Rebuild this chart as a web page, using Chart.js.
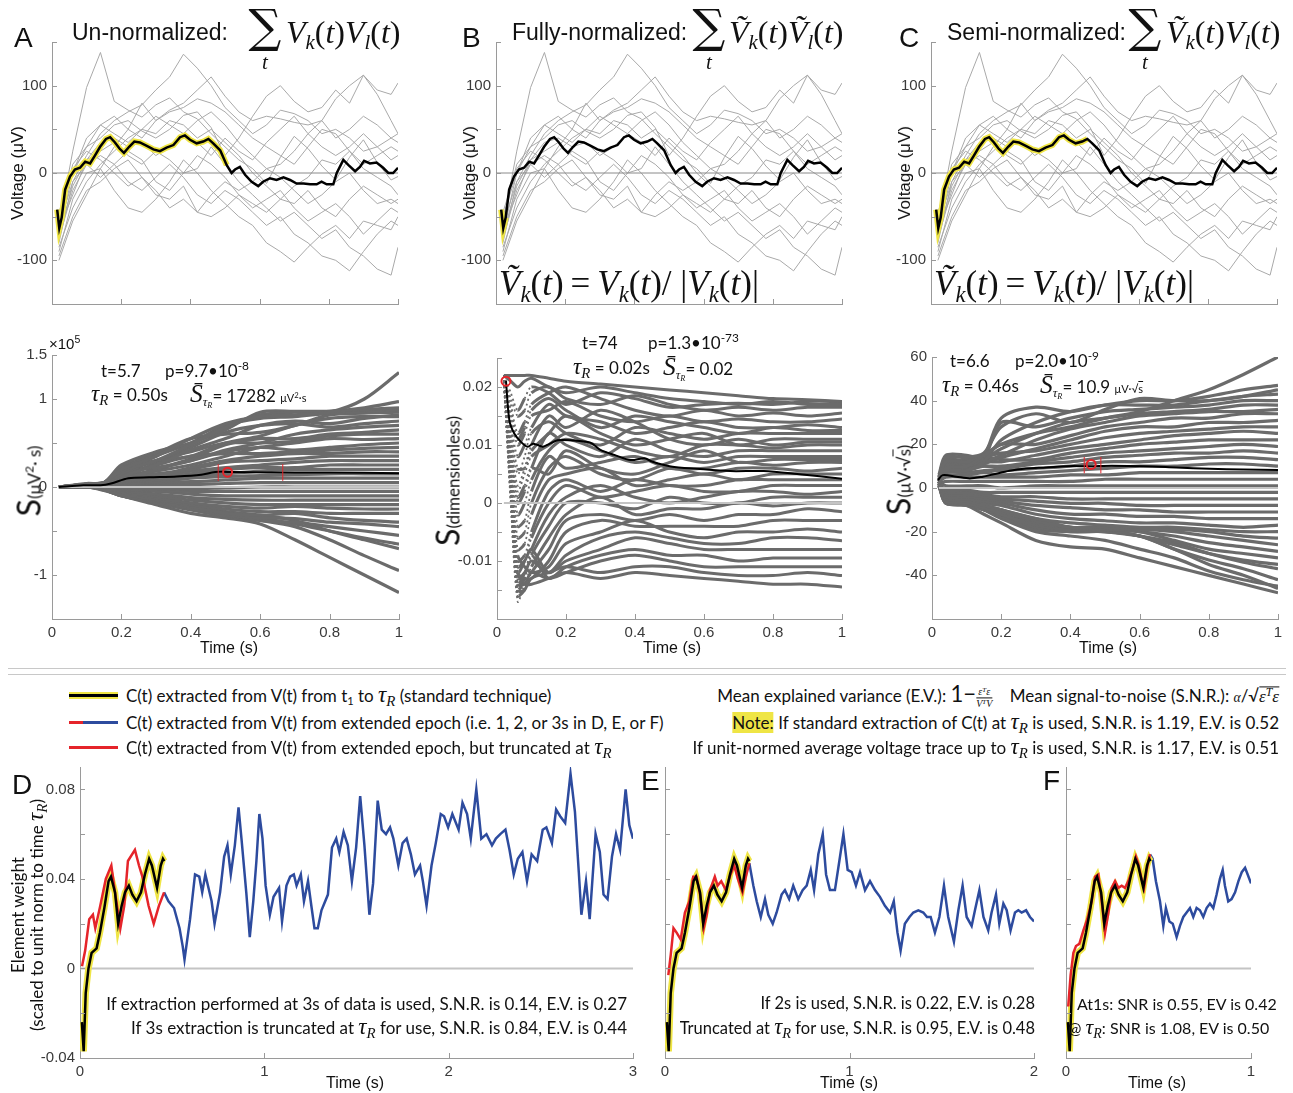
<!DOCTYPE html>
<html>
<head>
<meta charset="utf-8">
<title>Normalisation comparison</title>
<script src="https://cdn.jsdelivr.net/npm/chart.js@4.4.1/dist/chart.umd.min.js"></script>
<style>
  body { margin: 0; width: 1293px; height: 1093px; position: relative; overflow: hidden; background: #fff; }
  canvas { position: absolute; }
  .lbl { position: absolute; white-space: nowrap; line-height: 1; color: #111; }
  .lbl sub { font-size: 0.65em; vertical-align: -0.3em; line-height: 0; }
  .lbl sup { font-size: 0.7em; vertical-align: 0.55em; line-height: 0; }
  .m { font-family: "Liberation Serif", "DejaVu Serif", serif; font-style: italic; }
  .fr { display: inline-flex; flex-direction: column; vertical-align: middle; font-size: 10px; text-align: center; line-height: 1.1; }
  .fr > span:first-child { border-bottom: 1px solid #111; }
  .key { position: absolute; }
</style>
</head>
<body>
<script>
// ---- top row: voltage traces (µV) ----
const topTime = [0.02,0.06,0.10,0.14,0.18,0.22,0.26,0.30,0.34,0.38,0.42,0.46,0.50,0.54,0.58,0.62,0.66,0.70,0.74,0.78,0.82,0.86,0.90,0.94,0.98,1.00];
const voltageTraces = [
  [-60,25,98,138,82,72,64,78,86,70,62,45,30,15,5,-12,18,42,28,8,-8,18,38,12,-8,-4],
  [-80,-10,20,45,60,70,78,95,110,136,120,100,75,60,45,55,72,68,60,45,50,40,25,30,40,45],
  [-55,10,30,55,65,50,40,60,72,80,95,110,88,70,60,65,62,58,55,60,85,100,112,95,90,103],
  [-70,0,30,40,55,60,48,40,50,66,70,52,20,40,65,88,100,82,70,75,95,80,112,90,60,45],
  [-90,-30,0,5,-20,-40,-45,-30,-10,15,0,-20,-35,-50,-60,-80,-90,-102,-85,-70,-60,-75,-55,-60,-65,-50],
  [-75,-20,10,20,10,-10,-20,-5,10,-5,-25,-35,-20,-30,-45,-60,-50,-70,-80,-95,-100,-112,-90,-70,-55,-60],
  [-65,-25,15,25,35,20,10,25,15,0,5,30,10,-10,-25,-40,-55,-45,-60,-75,-65,-85,-95,-110,-117,-85],
  [-85,-40,-10,10,25,40,50,45,60,55,40,50,35,20,0,-15,-30,-35,-20,-40,-50,-30,-15,-25,-35,-30],
  [-50,0,40,55,45,35,50,65,55,45,60,70,55,35,20,5,10,25,45,60,40,50,65,55,40,35],
  [-45,5,25,15,0,-15,-5,-20,-40,-30,-45,-25,-10,-20,-10,5,-5,-20,-35,-25,-10,0,-20,-35,-30,-35],
  [-95,-50,-20,-10,5,15,-5,-25,-30,-15,-45,-50,-40,-25,-35,-45,-30,-15,-5,15,10,25,5,-5,-15,-25],
  [-70,-15,15,35,40,30,35,20,30,45,35,20,40,25,15,35,50,65,45,30,20,30,45,30,15,20],
  [-60,-10,10,-5,10,25,15,-10,-20,0,20,10,-5,-25,-40,-30,-20,-40,-55,-45,-35,-50,-70,-55,-40,-45],
  [-100,-55,-25,5,30,50,80,60,70,75,85,80,70,55,40,30,20,10,30,50,45,25,10,20,30,25]
];
const meanTime = [0.015,0.021,0.028,0.038,0.052,0.066,0.081,0.096,0.11,0.124,0.139,0.156,0.168,0.182,0.195,0.208,0.223,0.238,0.254,0.274,0.293,0.312,0.331,0.351,0.37,0.384,0.399,0.418,0.437,0.452,0.466,0.486,0.505,0.519,0.529,0.543,0.558,0.577,0.596,0.61,0.63,0.649,0.669,0.688,0.707,0.727,0.746,0.765,0.779,0.794,0.813,0.823,0.842,0.857,0.876,0.89,0.902,0.919,0.938,0.957,0.972,0.986,1.0];
const meanTrace = [-42,-63,-51,-19,-4,4,6,13,11,20,30,39,41,35,28,23,30,36,35,31,27,25,29,32,41,43,38,34,36,39,34,26,9,0,4,7,-2,-10,-15,-10,-6,-8,-5,-8,-12,-12,-13,-13,-10,-13,-13,0,15,9,2,7,14,11,12,6,0,0,6];
const yellowEnd = [0.505, 0.028, 0.46];

// ---- middle row: S(t) curves ----
const midTime = [0.02,0.1,0.15,0.2,0.3,0.4,0.5,0.6,0.7,0.8,0.9,1.0];
const sUnnorm = [ // x 1e5
  [0,0.03,0.05,0.2,0.35,0.55,0.72,0.8,0.82,0.85,1.0,1.3],
  [0,0.03,0.04,0.18,0.3,0.48,0.68,0.82,0.85,0.86,0.9,0.97],
  [0,0.04,0.05,0.25,0.4,0.5,0.65,0.85,0.86,0.86,0.88,0.9],
  [0,0.02,0.04,0.15,0.35,0.5,0.7,0.78,0.8,0.84,0.86,0.88],
  [0,0.03,0.05,0.22,0.38,0.55,0.6,0.62,0.7,0.82,0.84,0.85],
  [0,0.02,0.04,0.12,0.25,0.42,0.55,0.7,0.75,0.72,0.78,0.82],
  [0,0.03,0.04,0.2,0.3,0.35,0.5,0.58,0.7,0.78,0.8,0.8],
  [0,0.02,0.03,0.1,0.28,0.45,0.62,0.7,0.72,0.68,0.72,0.75],
  [0,0.03,0.05,0.18,0.22,0.3,0.42,0.5,0.6,0.65,0.68,0.7],
  [0,0.02,0.04,0.08,0.2,0.32,0.48,0.55,0.55,0.6,0.62,0.65],
  [0,0.03,0.05,0.15,0.3,0.4,0.5,0.5,0.52,0.58,0.6,0.6],
  [0,0.02,0.03,0.12,0.18,0.25,0.35,0.45,0.5,0.55,0.54,0.55],
  [0,0.02,0.04,0.1,0.2,0.3,0.4,0.45,0.42,0.45,0.48,0.5],
  [0,0.03,0.05,0.14,0.25,0.35,0.38,0.38,0.4,0.42,0.44,0.45],
  [0,0.02,0.03,0.06,0.12,0.22,0.3,0.35,0.38,0.38,0.4,0.4],
  [0,0.02,0.04,0.1,0.15,0.2,0.28,0.3,0.32,0.35,0.35,0.35],
  [0,0.03,0.04,0.08,0.12,0.18,0.22,0.25,0.28,0.3,0.3,0.3],
  [0,0.02,0.03,0.05,0.1,0.15,0.2,0.22,0.22,0.25,0.25,0.25],
  [0,0.02,0.03,0.06,0.08,0.12,0.15,0.18,0.2,0.2,0.2,0.2],
  [0,0.01,0.02,0.04,0.06,0.1,0.12,0.13,0.14,0.15,0.15,0.15],
  [0,0.01,0.02,0.03,0.05,0.06,0.08,0.1,0.1,0.1,0.1,0.1],
  [0,0.01,0.01,0.02,0.03,0.03,0.04,0.05,0.05,0.05,0.05,0.05],
  [0,0.01,0,-0.01,-0.02,-0.02,-0.01,0,0,0,0,0],
  [0,0,-0.01,-0.02,-0.04,-0.05,-0.05,-0.05,-0.05,-0.05,-0.05,-0.05],
  [0,0,-0.02,-0.03,-0.05,-0.08,-0.1,-0.1,-0.1,-0.1,-0.1,-0.1],
  [0,0,-0.02,-0.04,-0.08,-0.12,-0.14,-0.15,-0.15,-0.15,-0.15,-0.15],
  [0,0,-0.02,-0.05,-0.1,-0.15,-0.18,-0.2,-0.2,-0.2,-0.2,-0.2],
  [0,0.01,-0.01,-0.06,-0.12,-0.18,-0.22,-0.24,-0.22,-0.24,-0.25,-0.25],
  [0,0,-0.03,-0.08,-0.14,-0.2,-0.25,-0.28,-0.28,-0.3,-0.3,-0.3],
  [0,0,-0.02,-0.07,-0.15,-0.22,-0.3,-0.32,-0.3,-0.35,-0.38,-0.4],
  [0,0.01,-0.03,-0.1,-0.16,-0.24,-0.32,-0.35,-0.36,-0.4,-0.42,-0.45],
  [0,0,-0.02,-0.08,-0.14,-0.2,-0.3,-0.38,-0.4,-0.45,-0.5,-0.55],
  [0,0,-0.03,-0.1,-0.18,-0.25,-0.3,-0.35,-0.42,-0.5,-0.58,-0.65],
  [0,0.01,-0.02,-0.06,-0.12,-0.22,-0.28,-0.32,-0.38,-0.5,-0.6,-0.7],
  [0,0,-0.03,-0.1,-0.18,-0.26,-0.33,-0.38,-0.45,-0.6,-0.78,-0.95],
  [0,0,-0.04,-0.1,-0.2,-0.3,-0.35,-0.42,-0.6,-0.8,-1.0,-1.2]
];
const unnormMeanT = [0.02,0.09,0.14,0.17,0.22,0.28,0.36,0.43,0.47,0.52,0.62,0.8,1.0];
const unnormMean = [0,0.02,0.02,0.04,0.1,0.11,0.12,0.14,0.17,0.17,0.165,0.165,0.155];

const fullTime = [0.02,0.04,0.06,0.08,0.1,0.15,0.2,0.3,0.4,0.5,0.6,0.7,0.8,0.9,1.0];
const sFull = [ // x 1e-3
  [22,22,22,22,22,21.5,21,20.5,20,19.5,19,18.5,18,17.8,17.5],
  [22,21,20,21,21.5,20,19,20,19,18,17.5,17,17.5,17,17],
  [21,18,15,16,19,20,18,17,18.5,17,16,16.5,16,16.5,16.5],
  [22,17,12,14,17,19,20,18,16,15,16,15,15.5,15,15.5],
  [21,15,10,12,15,16,17.5,15,14,15,14,14.5,14,14,14.5],
  [22,14,8,10,13,17,15,14,12,13,14,13,13,13.5,13],
  [21,12,5,8,12,14,12,10,13,12,11,12,12,12,12],
  [22,13,6,6,9,12,15,12,10,11,12,10,11,11,11],
  [21,10,2,5,8,10,12,11,9,8,10,10,9.5,10,10],
  [22,9,0,2,6,12,10,8,11,9,8,9,9,9,9],
  [21,8,-2,0,4,9,11,9,7,8,7,8,8,8,8],
  [22,7,-4,-3,2,8,6,7,8,6,6,7,6.5,7,7],
  [21,6,-6,-5,0,6,8,5,4,6,5,6,6,5.5,6],
  [22,5,-8,-7,-2,4,5,6,3,4,5,4,5,5,5],
  [21,4,-10,-9,-5,2,4,2,4,3,3,4,4,4,4],
  [22,3,-12,-10,-6,0,3,1,2,3,2,2,3,3,3],
  [21,2,-14,-12,-8,-2,1,3,1,0,1,2,2,1.5,2],
  [22,1,-16,-13,-9,-4,0,0,-1,1,0,0,1,1,1],
  [21,0,-17,-14,-11,-6,-2,1,-2,-1,-1,0,-0.5,0,0],
  [22,2,-15,-15,-12,-8,-3,-2,-3,-2,-3,-2,-2,-1,-1.5],
  [21,4,-12,-13,-13,-10,-5,-3,-4,-4,-4,-4,-3,-3,-3],
  [22,6,-9,-11,-12,-11,-7,-5,-3,-5,-6,-5,-5,-4.5,-5],
  [21,3,-13,-12,-10,-12,-9,-6,-5,-6,-7,-7,-6,-6,-6.5],
  [22,5,-11,-10,-8,-12,-10,-8,-6,-7,-8,-8,-8,-8,-8],
  [21,1,-15,-13,-9,-13,-11,-9,-8,-9,-9,-10,-9.5,-9.5,-9.5],
  [22,2,-14,-14,-12,-13,-12,-10,-9,-10,-11,-11,-11,-11,-11],
  [21,0,-16,-15,-13,-12,-11,-12,-11,-11,-12,-12.5,-12.5,-12,-12.5],
  [22,3,-12,-14,-14,-13,-12,-13,-12,-12.5,-13,-13.5,-14,-14,-14.5],
  [22,19,16,18,20,19,17,19,18,16.5,17,17.2,17,17.5,17.5],
  [21,16,11,13,16,18,16,13,15,14,13,12,13,12.5,12.5],
  [22,11,3,6,10,15,13,16,14,11,10,11,10,10.5,10.5],
  [21,9,1,3,6,5,9,6,5,7,9,7,7.5,7.5,7.5]
];
const fullMeanT = [0.026,0.036,0.05,0.07,0.089,0.104,0.118,0.133,0.152,0.176,0.214,0.263,0.277,0.301,0.34,0.388,0.427,0.451,0.504,0.58,0.676,0.773,0.87,1.0];
const fullMean = [21,14.2,12,10.5,9.7,10.2,10,9.7,10.2,10.8,10.8,10.5,10.2,9.1,8.3,7.4,7.7,7.1,6.3,5.9,5.5,5.5,5,4.2];

const semiTime = [0.02,0.04,0.1,0.15,0.2,0.3,0.4,0.5,0.6,0.7,0.8,0.9,1.0];
const sSemi = [
  [4,9,10,15,20,25,28,32,35,40,45,52,60],
  [3,12,12,15,32,37,35,38,40,40,42,45,47],
  [5,14,14,16,28,34,30,36,41,40,40,42,45],
  [2,8,8,12,22,30,35,38,38,38,40,42,43],
  [6,15,15,14,30,28,32,35,36,37,38,40,40],
  [3,10,10,13,18,25,30,32,34,35,36,38,38],
  [4,13,12,12,15,22,27,30,33,34,35,35,36],
  [5,12,13,15,20,20,24,28,30,32,32,34,34],
  [2,9,9,11,14,18,22,26,28,28,30,30,31],
  [4,11,11,14,16,17,20,23,25,26,27,28,28],
  [3,10,10,12,12,15,18,20,22,24,25,26,25],
  [5,12,12,14,13,13,16,18,20,21,22,22,22],
  [4,9,9,10,10,12,14,16,17,18,19,20,19],
  [3,8,8,10,9,11,12,14,15,16,16,17,16],
  [2,7,7,8,8,9,10,12,12,13,14,14,13],
  [5,6,6,7,6,7,8,9,10,10,11,11,10],
  [3,5,5,5,5,5,6,6,7,7,7,7,7],
  [2,3,3,3,3,3,3,4,4,4,4,4,4],
  [3,1,1,1,0,1,1,1,1,1,1,1,1],
  [2,-1,-1,-2,-2,-2,-2,-2,-2,-2,-2,-2,-2],
  [4,-2,-2,-3,-4,-4,-5,-5,-5,-5,-5,-5,-5],
  [1,-3,-3,-4,-5,-6,-7,-7,-8,-8,-8,-8,-8],
  [3,-4,-4,-5,-6,-8,-9,-10,-10,-11,-11,-11,-11],
  [2,-5,-5,-6,-7,-10,-12,-12,-13,-13,-14,-14,-14],
  [1,-5,-5,-7,-8,-12,-14,-15,-16,-16,-17,-18,-17],
  [2,-6,-6,-8,-10,-14,-16,-17,-18,-18,-19,-20,-20],
  [3,-6,-7,-9,-11,-15,-18,-18,-19,-19,-20,-22,-23],
  [1,-6,-6,-8,-10,-16,-18,-19,-19,-20,-22,-24,-26],
  [2,-7,-7,-9,-12,-17,-19,-19,-20,-22,-25,-27,-29],
  [1,-5,-5,-8,-10,-14,-18,-19,-20,-24,-28,-30,-32],
  [3,-6,-6,-9,-12,-16,-18,-19,-22,-26,-30,-33,-35],
  [2,-6,-7,-10,-12,-18,-19,-20,-22,-25,-30,-34,-37],
  [1,-7,-8,-10,-13,-19,-20,-20,-22,-28,-33,-37,-42],
  [2,-7,-7,-10,-12,-18,-20,-20,-22,-28,-35,-40,-46],
  [1,-6,-8,-12,-16,-24,-27,-28,-32,-36,-40,-44,-48],
  [3,-6,-6,-10,-14,-20,-22,-24,-28,-32,-38,-42,-45]
];
const semiMeanT = [0.017,0.031,0.07,0.109,0.147,0.176,0.224,0.272,0.33,0.388,0.455,0.52,0.61,0.706,0.803,0.899,1.0];
const semiMean = [3.6,5.9,5.2,4.4,5.2,6.2,7.9,8.9,9.4,10,10,10.2,10,9.4,8.8,8.5,8.2];

const tauT = [0.506, 0.026, 0.46];
const tauS = [0.168, 0.021, 10.8];
const ciUnnormT = [0.479, 0.665], ciUnnormS = [0.07, 0.26];
const ciSemiT = [0.44, 0.488], ciSemiS = [6.7, 14.2];

// ---- bottom row: element weights ----
const stdT = [0.01,0.02,0.031,0.046,0.063,0.09,0.108,0.132,0.155,0.168,0.19,0.207,0.226,0.244,0.265,0.284,0.307,0.331,0.352,0.375,0.39,0.418,0.438,0.45,0.457];
const stdC = [-0.024,-0.037,-0.011,0.0,0.007,0.009,0.016,0.027,0.039,0.041,0.034,0.020,0.028,0.034,0.037,0.033,0.030,0.034,0.042,0.049,0.046,0.036,0.046,0.049,0.048];

const dTruncT = [0.011,0.028,0.05,0.07,0.083,0.11,0.14,0.17,0.19,0.219,0.24,0.26,0.298,0.32,0.342,0.372,0.4,0.428,0.456];
const dTrunc = [0.001,0.008,0.022,0.024,0.018,0.028,0.040,0.046,0.034,0.018,0.028,0.048,0.053,0.046,0.040,0.028,0.020,0.028,0.034];
const dExtT = [0.456,0.48,0.51,0.54,0.557,0.567,0.597,0.624,0.647,0.663,0.68,0.714,0.73,0.76,0.782,0.80,0.818,0.84,0.86,0.876,0.902,0.921,0.94,0.957,0.973,0.99,1.007,1.03,1.05,1.08,1.096,1.12,1.14,1.16,1.175,1.198,1.215,1.237,1.255,1.272,1.29,1.31,1.345,1.367,1.39,1.407,1.43,1.453,1.475,1.498,1.52,1.543,1.57,1.59,1.615,1.637,1.66,1.682,1.7,1.727,1.75,1.772,1.795,1.817,1.845,1.86,1.88,1.907,1.93,1.957,1.975,1.997,2.02,2.054,2.075,2.1,2.12,2.15,2.177,2.205,2.235,2.256,2.28,2.308,2.33,2.353,2.375,2.4,2.425,2.45,2.48,2.51,2.53,2.56,2.583,2.605,2.632,2.661,2.685,2.706,2.72,2.745,2.765,2.797,2.82,2.84,2.862,2.886,2.908,2.93,2.96,2.98,3.0];
const dExt = [0.034,0.030,0.027,0.018,0.010,0.004,0.022,0.042,0.041,0.034,0.042,0.030,0.020,0.034,0.050,0.055,0.042,0.055,0.072,0.058,0.034,0.014,0.030,0.048,0.069,0.058,0.037,0.024,0.032,0.036,0.021,0.037,0.041,0.042,0.037,0.042,0.030,0.039,0.028,0.018,0.018,0.026,0.033,0.054,0.058,0.052,0.061,0.055,0.039,0.054,0.077,0.055,0.024,0.038,0.075,0.062,0.060,0.063,0.058,0.046,0.056,0.058,0.051,0.042,0.046,0.039,0.028,0.046,0.056,0.069,0.068,0.063,0.069,0.062,0.074,0.069,0.058,0.080,0.058,0.060,0.055,0.058,0.060,0.062,0.053,0.042,0.049,0.052,0.039,0.051,0.048,0.062,0.063,0.056,0.071,0.068,0.065,0.087,0.070,0.043,0.024,0.039,0.022,0.060,0.052,0.033,0.031,0.050,0.060,0.053,0.080,0.064,0.058];

const eTruncT = [0.018,0.031,0.046,0.063,0.085,0.108,0.132,0.153,0.171,0.19,0.21,0.226,0.244,0.27,0.285,0.305,0.33,0.355,0.375,0.395,0.42,0.438,0.457];
const eTrunc = [-0.003,0.006,0.018,0.016,0.013,0.025,0.030,0.041,0.041,0.033,0.018,0.024,0.035,0.041,0.037,0.039,0.035,0.042,0.046,0.040,0.034,0.041,0.047];
const eExtT = [0.457,0.479,0.497,0.519,0.542,0.56,0.584,0.605,0.632,0.65,0.673,0.695,0.722,0.746,0.768,0.79,0.808,0.831,0.855,0.873,0.894,0.921,0.945,0.967,0.99,1.012,1.035,1.057,1.084,1.111,1.138,1.165,1.192,1.22,1.24,1.26,1.277,1.3,1.325,1.346,1.373,1.4,1.42,1.44,1.463,1.487,1.512,1.535,1.566,1.59,1.613,1.635,1.662,1.68,1.704,1.726,1.752,1.77,1.794,1.812,1.834,1.852,1.873,1.897,1.915,1.933,1.957,1.978,2.0];
const eExt = [0.047,0.037,0.030,0.023,0.031,0.024,0.020,0.025,0.033,0.035,0.031,0.037,0.031,0.035,0.037,0.044,0.035,0.051,0.060,0.042,0.035,0.035,0.048,0.060,0.044,0.043,0.037,0.043,0.035,0.039,0.035,0.032,0.028,0.025,0.030,0.016,0.008,0.020,0.023,0.025,0.026,0.025,0.023,0.023,0.016,0.023,0.037,0.023,0.012,0.026,0.037,0.023,0.019,0.026,0.035,0.023,0.017,0.025,0.033,0.020,0.029,0.026,0.017,0.025,0.026,0.025,0.026,0.023,0.021];

const fTruncT = [0.012,0.025,0.04,0.054,0.072,0.094,0.115,0.139,0.157,0.175,0.193,0.211,0.229,0.247,0.265,0.283,0.301,0.319,0.337,0.355,0.378,0.39,0.409,0.422,0.436,0.454];
const fTrunc = [-0.017,-0.003,0.007,0.010,0.011,0.017,0.022,0.030,0.041,0.042,0.030,0.016,0.025,0.036,0.039,0.036,0.037,0.036,0.039,0.043,0.050,0.047,0.040,0.036,0.044,0.051];
const fExtT = [0.454,0.468,0.486,0.508,0.526,0.54,0.559,0.577,0.598,0.616,0.634,0.652,0.67,0.688,0.706,0.724,0.742,0.76,0.778,0.796,0.814,0.832,0.847,0.859,0.877,0.895,0.914,0.932,0.95,0.968,0.982,1.0];
const fExt = [0.051,0.049,0.039,0.030,0.019,0.027,0.021,0.020,0.014,0.019,0.023,0.025,0.027,0.023,0.027,0.026,0.023,0.027,0.029,0.027,0.033,0.040,0.044,0.037,0.030,0.031,0.034,0.039,0.043,0.045,0.042,0.038];

// ---- helpers ----
const SANS = '"Liberation Sans", Arial, sans-serif';
const MYR = 'Lato, "Open Sans", sans-serif';
const SERIF = '"Liberation Serif", serif';
const GRAY_TOP = '#a9a9a9', GRAY_MID = '#6b6b6b';
const BLUE = '#2d4b9e', RED = '#e5242a', YEL = '#efe545';

function line(xs, ys, color, width, order, tension = 0) {
  return { data: xs.map((x, i) => ({ x, y: ys[i] })), borderColor: color, borderWidth: width,
           pointRadius: 0, order, tension, fill: false };
}
function marker(x, y) {
  return { data: [{ x, y }], showLine: false, pointRadius: 4.5, pointBorderWidth: 2,
           pointBorderColor: RED, pointBackgroundColor: 'rgba(0,0,0,0)', order: 0 };
}
function only(list, digits) {
  return v => {
    const r = +v.toFixed(digits);
    return list.some(l => Math.abs(l - r) < 1e-9) ? (r === 0 ? '0' : String(r)) : '';
  };
}

const innerTicks = {
  id: 'innerTicks',
  afterDraw(chart) {
    const { ctx, chartArea: a, scales } = chart;
    ctx.save();
    ctx.strokeStyle = '#999';
    ctx.lineWidth = 1;
    for (const t of scales.x.ticks) {
      const p = Math.round(scales.x.getPixelForValue(t.value)) + 0.5;
      ctx.beginPath(); ctx.moveTo(p, a.bottom); ctx.lineTo(p, a.bottom - 5); ctx.stroke();
    }
    for (const t of scales.y.ticks) {
      const p = Math.round(scales.y.getPixelForValue(t.value)) + 0.5;
      ctx.beginPath(); ctx.moveTo(a.left, p); ctx.lineTo(a.left + 5, p); ctx.stroke();
    }
    ctx.restore();
  }
};

function makePanel(box, datasets, xs, ys) {
  const padT = 14, padR = 14, yW = 60, xH = 30;
  const cv = document.createElement('canvas');
  cv.width = box.r - box.l + yW + padR;
  cv.height = box.b - box.t + padT + xH;
  cv.style.left = (box.l - yW) + 'px';
  cv.style.top = (box.t - padT) + 'px';
  document.body.appendChild(cv);
  const tickFont = { family: SANS, size: 15 };
  const axis = (o, fit) => ({
    type: 'linear', min: o.min, max: o.max,
    ticks: { stepSize: o.step, callback: o.fmt, color: '#3a3a3a', font: tickFont, padding: 5,
             maxRotation: 0, autoSkip: false, includeBounds: false },
    grid: { drawOnChartArea: false, drawTicks: false },
    border: { color: '#9a9a9a' },
    afterFit: fit
  });
  return new Chart(cv, {
    type: 'line',
    data: { datasets },
    options: {
      responsive: false, animation: false, events: [],
      layout: { padding: { top: padT, right: padR, left: 0, bottom: 0 } },
      plugins: { legend: { display: false }, tooltip: { enabled: false } },
      elements: { point: { radius: 0 } },
      scales: {
        x: axis(xs, s => { s.height = xH; }),
        y: axis(ys, s => { s.width = yW; })
      }
    },
    plugins: [innerTicks]
  });
}

function put(html, x, y, font, align = 'l', rot = false) {
  const d = document.createElement('div');
  d.className = 'lbl';
  d.innerHTML = html;
  d.style.font = font;
  d.style.left = x + 'px';
  d.style.top = y + 'px';
  const tx = align === 'c' ? -50 : align === 'r' ? -100 : 0;
  d.style.transform = `translate(${tx}%,-50%)` + (rot ? ' rotate(-90deg)' : '');
  document.body.appendChild(d);
}
function rect(x, y, w, h, color) {
  const d = document.createElement('div');
  d.className = 'key';
  Object.assign(d.style, { left: x + 'px', top: y + 'px', width: w + 'px', height: h + 'px', background: color });
  document.body.appendChild(d);
}

// ---- top row ----
const topBoxes = [{ l: 52, t: 42, r: 398, b: 304 }, { l: 496, t: 42, r: 842, b: 304 }, { l: 931, t: 42, r: 1277, b: 304 }];
topBoxes.forEach((box, k) => {
  const ds = voltageTraces.map(tr => line(topTime, tr, GRAY_TOP, 1, 10));
  ds.push(line([0, 1], [0, 0], '#8a8a8a', 1, 9));
  const yi = meanTime.filter(t => t <= yellowEnd[k]);
  ds.push(line(yi, meanTrace, YEL, 6, 3));
  ds.push(line(meanTime, meanTrace, '#000', 2.5, 2));
  makePanel(box, ds,
    { min: 0, max: 1, step: 0.2, fmt: () => '' },
    { min: -150, max: 150, step: 50, fmt: only([100, 0, -100], 0) });
});

// ---- middle row ----
const midX = { min: 0, max: 1, step: 0.2, fmt: v => String(+v.toFixed(1)) };
{
  const ds = sUnnorm.map(s => line(midTime, s, GRAY_MID, 3.2, 10, 0.3));
  ds.push(line([0.02, 1], [0, 0], '#c4c4c4', 2, 8));
  ds.push(line(unnormMeanT, unnormMean, '#000', 2, 3, 0.3));
  ds.push(line([ciUnnormT[0], ciUnnormT[0]], ciUnnormS, RED, 1, 1));
  ds.push(line([ciUnnormT[1], ciUnnormT[1]], ciUnnormS, RED, 1, 1));
  ds.push(marker(tauT[0], tauS[0]));
  makePanel({ l: 52, t: 355, r: 399, b: 619 }, ds, midX,
    { min: -1.5, max: 1.5, step: 0.5, fmt: only([1.5, 1, 0, -1], 1) });
}
{
  // the steep early plunges read as stippled in the original
  const steep = c => c.p0.parsed.x < 0.1 && Math.abs(c.p1.parsed.y - c.p0.parsed.y) > 0.002;
  const ds = sFull.map(s => Object.assign(line(fullTime, s.map(v => v / 1000), GRAY_MID, 3, 10, 0.3), {
    segment: { borderDash: c => steep(c) ? [2, 3] : undefined, borderWidth: c => steep(c) ? 1.8 : undefined }
  }));
  ds.push(line([0.02, 1], [0, 0], '#c4c4c4', 2, 8));
  ds.push(line(fullMeanT, fullMean.map(v => v / 1000), '#000', 2, 3, 0.3));
  ds.push(marker(tauT[1], tauS[1]));
  makePanel({ l: 497, t: 358, r: 842, b: 619 }, ds, midX,
    { min: -0.02, max: 0.025, step: 0.005, fmt: only([0.02, 0.01, 0, -0.01], 3) });
}
{
  const ds = sSemi.map(s => line(semiTime, s, GRAY_MID, 3.2, 10, 0.3));
  ds.push(line([0.02, 1], [0, 0], '#c4c4c4', 2, 8));
  ds.push(line(semiMeanT, semiMean, '#000', 2, 3, 0.3));
  ds.push(line([ciSemiT[0], ciSemiT[0]], ciSemiS, RED, 1, 1));
  ds.push(line([ciSemiT[1], ciSemiT[1]], ciSemiS, RED, 1, 1));
  ds.push(marker(tauT[2], tauS[2]));
  makePanel({ l: 932, t: 357, r: 1278, b: 619 }, ds, midX,
    { min: -60, max: 60, step: 20, fmt: only([60, 40, 20, 0, -20, -40], 0) });
}

// ---- bottom row ----
function weightPanel(box, tMax, truncT, trunc, extT, ext, labels) {
  const ds = [
    line([0, tMax], [0, 0], '#c4c4c4', 2, 9),
    line(extT, ext, BLUE, 2.5, 6),
    line(stdT, stdC, YEL, 6.5, 5),
    line(truncT, trunc, RED, 2.5, 4),
    line(stdT, stdC, '#000', 2.5, 3)
  ];
  makePanel(box, ds,
    { min: 0, max: tMax, step: 1, fmt: v => String(Math.round(v)) },
    { min: -0.04, max: 0.09, step: 0.02, fmt: labels ? only([0.08, 0.04, 0, -0.04], 2) : () => '' });
}
weightPanel({ l: 80, t: 767, r: 633, b: 1058 }, 3, dTruncT, dTrunc, dExtT, dExt, true);
weightPanel({ l: 665, t: 767, r: 1034, b: 1058 }, 2, eTruncT, eTrunc, eExtT, eExt, false);
weightPanel({ l: 1066, t: 767, r: 1251, b: 1058 }, 1, fTruncT, fTrunc, fExtT, fExt, false);

// ---- text: top row ----
const TAU = '<span class="m" style="font-size:1.35em">τ<sub>R</sub></span>';
const SBAR = '<span class="m" style="font-size:1.5em">S&#772;<sub style="font-size:0.5em">τ<sub>R</sub></sub></span>';
put('A', 14, 38, '28px ' + SANS);
put('B', 462, 38, '28px ' + SANS);
put('C', 899, 38, '28px ' + SANS);
put('Un-normalized:', 72, 32, '23px ' + SANS);
put('Fully-normalized:', 512, 32, '23px ' + SANS);
put('Semi-normalized:', 947, 32, '23px ' + SANS);
[265, 709, 1145].forEach(x => {
  put('∑', x, 26, '46px "DejaVu Serif", serif', 'c');
  put('<span class="m">t</span>', x, 62, '21px ' + SANS, 'c');
});
const Vk = '<span class="m">V</span><sub class="m">k</sub>(<span class="m">t</span>)';
const Vl = '<span class="m">V</span><sub class="m">l</sub>(<span class="m">t</span>)';
const Wk = '<span class="m">V&#771;</span><sub class="m">k</sub>(<span class="m">t</span>)';
const Wl = '<span class="m">V&#771;</span><sub class="m">l</sub>(<span class="m">t</span>)';
put(Vk + Vl, 286, 32, '32px ' + SERIF);
put(Wk + Wl, 729, 32, '32px ' + SERIF);
put(Wk + Vl, 1166, 32, '32px ' + SERIF);
const normEq = Wk + '&thinsp;=&thinsp;' + Vk + '/ |' + Vk + '|';
put(normEq, 499, 284, '35px ' + SERIF);
put(normEq, 934, 284, '35px ' + SERIF);
[18, 470, 905].forEach(x => put('Voltage (μV)', x, 173, '17px ' + SANS, 'c', true));

// ---- text: middle row ----
put('×10<sup>5</sup>', 49, 343, '15px ' + SANS);
put('t=5.7', 101, 370, '17px ' + MYR);
put('p=9.7•10<sup>-8</sup>', 165, 370, '17px ' + MYR);
put(TAU + ' = 0.50s', 91, 394, '17px ' + MYR);
put(SBAR + '= 17282 <span style="font-size:11px">μV<sup>2</sup>·s</span>', 190, 394, '17px ' + MYR);
put('t=74', 582, 342, '17px ' + MYR);
put('p=1.3•10<sup>-73</sup>', 648, 342, '17px ' + MYR);
put(TAU + ' = 0.02s', 573, 367, '17px ' + MYR);
put(SBAR + '= 0.02', 663, 367, '17px ' + MYR);
put('t=6.6', 950, 360, '17px ' + MYR);
put('p=2.0•10<sup>-9</sup>', 1015, 360, '17px ' + MYR);
put(TAU + ' = 0.46s', 942, 385, '17px ' + MYR);
put(SBAR + '= 10.9 <span style="font-size:11px">μV·√<span style="text-decoration:overline">s</span></span>', 1040, 385, '17px ' + MYR);
put('<span style="font-size:32px">S</span>(μV<sup>2</sup>· s)', 28, 481, '17px ' + MYR, 'c', true);
put('<span style="font-size:32px">S</span>(dimensionless)', 447, 481, '17px ' + MYR, 'c', true);
put('<span style="font-size:32px">S</span>(μV·√<span style="text-decoration:overline">s</span>)', 898, 480, '17px ' + MYR, 'c', true);
[229, 672, 1108].forEach(x => put('Time (s)', x, 648, '16px ' + SANS, 'c'));

// ---- legend block ----
rect(8, 668, 1278, 1, '#c8c8c8');
rect(8, 674, 1278, 1, '#c8c8c8');
rect(69, 692, 49, 7, YEL);
rect(69, 694, 49, 3, '#000');
rect(69, 721, 14, 3, RED);
rect(83, 721, 35, 3, BLUE);
rect(69, 746, 49, 3, RED);
put('C(t) extracted from V(t) from t<sub>1</sub> to ' + TAU + ' (standard technique)', 126, 695, '17px ' + MYR);
put('C(t) extracted from V(t) from extended epoch (i.e. 1, 2, or 3s in D, E, or F)', 126, 722, '17px ' + MYR);
put('C(t) extracted from V(t) from extended epoch, but truncated at ' + TAU, 126, 747, '17px ' + MYR);
put('Mean explained variance (E.V.): <span style="font-size:1.3em">1−</span><span class="fr"><span class="m">ε<sup>T</sup>ε</span><span class="m">V<sup>T</sup>V</span></span>' +
    '&nbsp;&nbsp;&nbsp; Mean signal-to-noise (S.N.R.): <span class="m" style="font-size:0.8em">α</span>/√<span class="m" style="border-top:1px solid #111">ε<sup>T</sup>ε</span>',
    1279, 695, '17px ' + MYR, 'r');
put('<span style="background:' + YEL + '">Note:</span> If standard extraction of C(t) at ' + TAU + ' is used, S.N.R. is 1.19, E.V. is 0.52', 1279, 722, '17px ' + MYR, 'r');
put('If unit-normed average voltage trace up to ' + TAU + ' is used, S.N.R. is 1.17, E.V. is 0.51', 1279, 747, '17px ' + MYR, 'r');

// ---- text: bottom row ----
put('D', 12, 785, '28px ' + SANS);
put('E', 641, 781, '28px ' + SANS);
put('F', 1043, 781, '28px ' + SANS);
put('Element weight', 17, 915, '17px ' + MYR, 'c', true);
put('(scaled to unit norm to time ' + TAU + ')', 36, 915, '17px ' + MYR, 'c', true);
[355, 849, 1157].forEach(x => put('Time (s)', x, 1083, '16px ' + SANS, 'c'));
put('If extraction performed at 3s of data is used, S.N.R. is 0.14, E.V. is 0.27', 627, 1003, '17px ' + MYR, 'r');
put('If 3s extraction is truncated at ' + TAU + ' for use, S.N.R. is 0.84, E.V. is 0.44', 627, 1027, '17px ' + MYR, 'r');
put('If 2s is used, S.N.R. is 0.22, E.V. is 0.28', 1035, 1003, '16.5px ' + MYR, 'r');
put('Truncated at ' + TAU + ' for use, S.N.R. is 0.95, E.V. is 0.48', 1035, 1027, '16.5px ' + MYR, 'r');
put('At1s: SNR is 0.55, EV is 0.42', 1077, 1003, '16px ' + MYR);
put('@ ' + TAU + ': SNR is 1.08, EV is 0.50', 1068, 1027, '16px ' + MYR);
</script>
</body>
</html>
